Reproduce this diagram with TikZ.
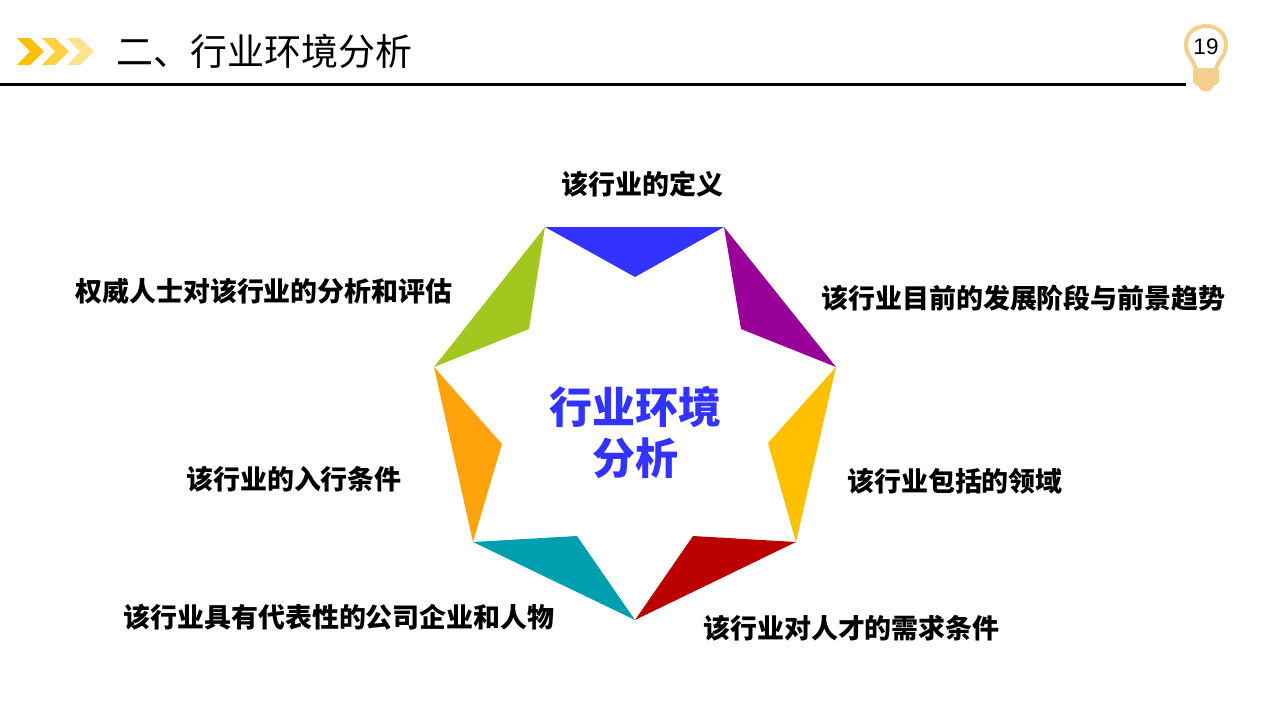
\documentclass[tikz,border=0pt]{standalone}
\usepackage{fontspec}
\setmainfont{Liberation Sans}
\newfontfamily\cjk{Noto Sans CJK SC}
\definecolor{cblue}{HTML}{3333FF}
\definecolor{cpurple}{HTML}{990099}
\definecolor{cyellow}{HTML}{FFC000}
\definecolor{cred}{HTML}{BB0000}
\definecolor{cteal}{HTML}{009FAF}
\definecolor{corange}{HTML}{FFA30D}
\definecolor{cgreen}{HTML}{A2C820}
\definecolor{bulb}{HTML}{F5CF8E}
\tikzset{
  lbl/.style={font=\cjk\bfseries\fontsize{26.95}{32}\selectfont,text=black,inner sep=0pt},
  petal/.style={draw=none},
  chev/.style={draw=none}
}
\begin{document}
\begin{tikzpicture}[x=1pt,y=-1pt]
\useasboundingbox[fill=white] (0,0) rectangle (1280,720);
% header
\fill[chev,fill=cyellow] (17,38) -- (30,38) -- (44,51.5) -- (30,65) -- (17,65) -- (30,51.5) -- cycle;
\fill[chev,fill=cyellow!75!white] (42,38) -- (55,38) -- (69,51.5) -- (55,65) -- (42,65) -- (55,51.5) -- cycle;
\fill[chev,fill=cyellow!45!white] (67,38) -- (80,38) -- (94,51.5) -- (80,65) -- (67,65) -- (80,51.5) -- cycle;
\node[font=\cjk\fontsize{37}{40}\selectfont,anchor=west,inner sep=0pt] (title) at (116.5,51) {二、行业环境分析};
\coordinate (ruleL) at (0,84.5);
\coordinate (ruleR) at (1186,84.5);
\draw[black,line width=2.6pt] (ruleL) -- (ruleR);
% bulb
\draw[bulb,line width=4pt,fill=white] (1196,70) .. controls (1195,61) and (1186,56) .. (1186,45) .. controls (1186,33) and (1195,26) .. (1206,26) .. controls (1217,26) and (1226,33) .. (1226,45) .. controls (1226,56) and (1217,61) .. (1216,70) -- cycle;
\fill[bulb,rounded corners=2pt] (1193,69) -- (1219,69) -- (1219,84) -- (1214,85) -- (1211,91) -- (1201,91) -- (1198,85) -- (1193,84) -- cycle;
\node[font=\fontsize{22.5}{25}\selectfont,inner sep=0pt] (num) at (1206,47) {19};
% petals
\fill[petal,fill=cblue] (545,227) -- (724,227) -- (635,277) -- cycle;
\fill[petal,fill=cpurple] (724,227) -- (836,367) -- (741,329) -- cycle;
\fill[petal,fill=cyellow] (836,367) -- (796,542) -- (768,443) -- cycle;
\fill[petal,fill=cred] (796,542) -- (635,620) -- (693,536) -- cycle;
\fill[petal,fill=cteal] (635,620) -- (473,542) -- (577,536) -- cycle;
\fill[petal,fill=corange] (473,542) -- (434,367) -- (502,444) -- cycle;
\fill[petal,fill=cgreen] (434,367) -- (545,227) -- (529,329) -- cycle;
% labels
\node[font=\cjk\bfseries\fontsize{43}{51}\selectfont,text=cblue,align=center,inner sep=0pt] (center) at (635,433) {行业环境\\分析};
\node[lbl] (a) at (642.5,184) {该行业的定义};
\node[lbl] (b) at (1023.5,298) {该行业目前的发展阶段与前景趋势};
\node[lbl] (c) at (955,481) {该行业包括的领域};
\node[lbl] (d) at (851.5,628) {该行业对人才的需求条件};
\node[lbl] (e) at (339,617) {该行业具有代表性的公司企业和人物};
\node[lbl] (f) at (294,479) {该行业的入行条件};
\node[lbl] (g) at (264,291) {权威人士对该行业的分析和评估};
\end{tikzpicture}
\end{document}
